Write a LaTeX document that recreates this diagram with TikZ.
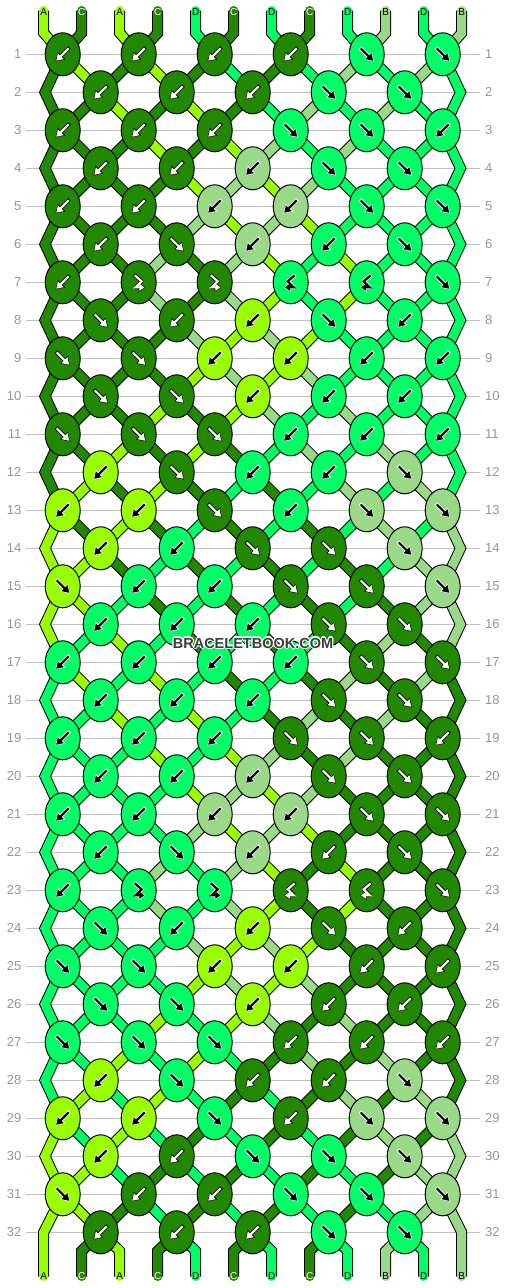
\documentclass[tikz,border=0pt]{standalone}
\usepackage{fontspec}
\setmainfont{Liberation Sans}
\usetikzlibrary{arrows.meta,shapes.geometric,calc}
\definecolor{colA}{RGB}{153,255,0}
\definecolor{colB}{RGB}{153,217,136}
\definecolor{colC}{RGB}{34,136,0}
\definecolor{colD}{RGB}{0,255,102}
\definecolor{rowlinec}{RGB}{192,192,192}
\definecolor{rownumc}{RGB}{150,150,150}
\definecolor{wmc}{RGB}{60,60,60}
\newcount\rowidx
\def\defrow#1#2{\global\rowidx=0 \def\currow{#1}\defrowaux#2\relax}
\def\defrowaux#1{\ifx#1\relax\else\global\advance\rowidx by 1 \expandafter\xdef\csname S\currow-\the\rowidx\endcsname{#1}\expandafter\defrowaux\fi}
\def\defknots#1#2{\expandafter\def\csname K#1\endcsname{#2}}
\def\parseknot#1#2\relax{\def\kc{#1}\def\ka{#2}}
% strings at each position after each row
\defrow{0}{ACACDCDCDBDB}
\defrow{1}{CACACDCDBDBD}
\defrow{2}{CCACACDBDBDD}
\defrow{3}{CCCACABDBDDD}
\defrow{4}{CCCCABABDDDD}
\defrow{5}{CCCCBABADDDD}
\defrow{6}{CCCBCBADADDD}
\defrow{7}{CCCBCBADADDD}
\defrow{8}{CCCCBABADDDD}
\defrow{9}{CCCCABABDDDD}
\defrow{10}{CCCACABDBDDD}
\defrow{11}{CCACACDBDBDD}
\defrow{12}{CACACDCDBDBD}
\defrow{13}{ACACDCDCDBDB}
\defrow{14}{AACDCDCDCDBB}
\defrow{15}{AADCDCDCDCBB}
\defrow{16}{ADADCDCDCBCB}
\defrow{17}{DADADCDCBCBC}
\defrow{18}{DDADADCBCBCC}
\defrow{19}{DDDADABCBCCC}
\defrow{20}{DDDDABABCCCC}
\defrow{21}{DDDDBABACCCC}
\defrow{22}{DDDBDBACACCC}
\defrow{23}{DDDBDBACACCC}
\defrow{24}{DDDDBABACCCC}
\defrow{25}{DDDDABABCCCC}
\defrow{26}{DDDADABCBCCC}
\defrow{27}{DDADADCBCBCC}
\defrow{28}{DADADCDCBCBC}
\defrow{29}{ADADCDCDCBCB}
\defrow{30}{AADCDCDCDCBB}
\defrow{31}{AACDCDCDCDBB}
\defrow{32}{ACACDCDCDBDB}
% knots: colour + arrow
\defknots{1}{CL,CL,CL,CL,DR,DR}
\defknots{2}{CL,CL,CL,DR,DR}
\defknots{3}{CL,CL,CL,DR,DR,DL}
\defknots{4}{CL,CL,BL,DR,DR}
\defknots{5}{CL,CL,BL,BL,DR,DR}
\defknots{6}{CL,CR,BL,DL,DR}
\defknots{7}{CL,CFB,CFB,DBF,DBF,DR}
\defknots{8}{CR,CL,AL,DR,DL}
\defknots{9}{CR,CR,AL,AL,DL,DL}
\defknots{10}{CR,CR,AL,DL,DL}
\defknots{11}{CR,CR,CR,DL,DL,DL}
\defknots{12}{AL,CR,DL,DL,BR}
\defknots{13}{AL,AL,CR,DL,BR,BR}
\defknots{14}{AL,DL,CR,CR,BR}
\defknots{15}{AR,DL,DL,CR,CR,BR}
\defknots{16}{DL,DL,DL,CR,CR}
\defknots{17}{DL,DL,DL,DL,CR,CR}
\defknots{18}{DL,DL,DL,CR,CR}
\defknots{19}{DL,DL,DL,CR,CR,CL}
\defknots{20}{DL,DL,BL,CR,CR}
\defknots{21}{DL,DL,BL,BL,CR,CR}
\defknots{22}{DL,DR,BL,CL,CR}
\defknots{23}{DL,DFB,DFB,CBF,CBF,CR}
\defknots{24}{DR,DL,AL,CR,CL}
\defknots{25}{DR,DR,AL,AL,CL,CL}
\defknots{26}{DR,DR,AL,CL,CL}
\defknots{27}{DR,DR,DR,CL,CL,CL}
\defknots{28}{AL,DR,CL,CL,BR}
\defknots{29}{AL,AL,DR,CL,BR,BR}
\defknots{30}{AL,CL,DR,DR,BR}
\defknots{31}{AR,CL,CL,DR,DR,BR}
\defknots{32}{CL,CL,CL,DR,DR}
% arrow glyphs: #1 halo colour, #2 arrow colour
\newcommand\arrL[2]{%
  \draw[#1,line width=3.8pt,-{Triangle[length=8.4pt,width=10.2pt]}] (6.7,-6.7) -- (-7.2,7.2);
  \draw[#2,line width=2.2pt,-{Triangle[length=6.6pt,width=8pt]}] (6,-6) -- (-6.5,6.5);}
\newcommand\arrR[2]{%
  \draw[#1,line width=3.8pt,-{Triangle[length=8.4pt,width=10.2pt]}] (-6.7,-6.7) -- (7.2,7.2);
  \draw[#2,line width=2.2pt,-{Triangle[length=6.6pt,width=8pt]}] (-6,-6) -- (6.5,6.5);}
\newcommand\arrFB[2]{%
  \draw[#1,line width=3.8pt,line join=round,-{Triangle[length=6.6pt,width=8.4pt]}] (-4.6,-7.6) -- (3,-1) -- (-3,5) -- (6.6,5);
  \draw[#2,line width=2.2pt,-{Triangle[length=5.2pt,width=6.6pt]}] (-4,-7) -- (3,-1) -- (-3,5) -- (5.8,5);}
\newcommand\arrBF[2]{%
  \draw[#1,line width=3.8pt,line join=round,-{Triangle[length=6.6pt,width=8.4pt]}] (4.6,-7.6) -- (-3,-1) -- (3,5) -- (-6.6,5);
  \draw[#2,line width=2.2pt,-{Triangle[length=5.2pt,width=6.6pt]}] (4,-7) -- (-3,-1) -- (3,5) -- (-5.8,5);}
\begin{document}
\begin{tikzpicture}[x=1pt,y=-1pt,
  strand/.style={draw=#1, line width=9pt, preaction={draw=black, line width=11pt}},
  knot/.style={ellipse, draw=black, line width=1pt, minimum width=35pt, minimum height=43pt, inner sep=0pt},
  rownum/.style={text=rownumc, font=\fontsize{13}{13}\selectfont, inner sep=0pt},
  tablabel/.style={font=\fontsize{10}{10}\selectfont, inner sep=0pt},
  wm/.style={font=\bfseries\fontsize{14.5}{14.5}\selectfont, inner sep=0pt}]
\useasboundingbox (0,0) rectangle (506,1288);
\fill[white] (0,0) rectangle (506,1288);
% coordinates of string positions
\foreach \r in {1,...,32}{
  \foreach \i in {1,...,12}{
    \pgfmathsetmacro\px{mod(\r,2)==1 ? 62.7+76*floor((\i-1)/2) : (\i==1 ? 45 : (\i==12 ? 460.5 : 100.7+76*(floor(\i/2)-1)))}
    \pgfmathsetmacro\py{54.3+38*(\r-1)}
    \coordinate (P-\r-\i) at (\px,\py);
  }
}
\foreach \i in {1,...,12}{
  \pgfmathsetmacro\tx{43.7+38*(\i-1)}
  \coordinate (T-\i) at (\tx,10.5);
  \coordinate (TB-\i) at (\tx,33);
  \coordinate (B-\i) at (\tx,1276.5);
  \coordinate (BB-\i) at (\tx,1251);
}
\coordinate (BE-1) at (43.7,1232.3);
\coordinate (BE-12) at (461.7,1232.3);
% row lines and numbers
\foreach \r in {1,...,32}{
  \pgfmathsetmacro\py{54.3+38*(\r-1)}
  \draw[rowlinec, line width=1pt] (26,\py) -- (480,\py);
  \node[rownum, anchor=east] (nl-\r) at (21.5,\py) {\r};
  \node[rownum, anchor=west] (nr-\r) at (485,\py) {\r};
}
% top tails
\foreach \i in {1,...,12}{
  \edef\cc{col\csname S0-\i\endcsname}
  \draw[strand=\cc, line cap=round] (T-\i) -- (TB-\i) -- (P-1-\i);
}
% inner segments
\foreach \r in {1,...,31}{
  \pgfmathtruncatemacro\rn{\r+1}
  \foreach \i in {2,...,11}{
    \edef\cc{col\csname S\r-\i\endcsname}
    \draw[strand=\cc] (P-\r-\i) -- (P-\rn-\i);
  }
}
% edge chevrons
\foreach \r in {1,3,...,29}{
  \pgfmathtruncatemacro\ra{\r+1}
  \pgfmathtruncatemacro\rb{\r+2}
  \edef\cc{col\csname S\r-1\endcsname}
  \draw[strand=\cc] (P-\r-1) -- (P-\ra-1) -- (P-\rb-1);
  \edef\cc{col\csname S\r-12\endcsname}
  \draw[strand=\cc] (P-\r-12) -- (P-\ra-12) -- (P-\rb-12);
}
% bottom tails
\foreach \i in {2,...,11}{
  \edef\cc{col\csname S32-\i\endcsname}
  \draw[strand=\cc, line cap=round] (P-32-\i) -- (BB-\i) -- (B-\i);
}
\edef\cc{col\csname S31-1\endcsname}
\draw[strand=\cc, line cap=round] (P-31-1) -- (BE-1) -- (B-1);
\edef\cc{col\csname S31-12\endcsname}
\draw[strand=\cc, line cap=round] (P-31-12) -- (BE-12) -- (B-12);
% knots
\foreach \r in {1,...,32}{
  \edef\kl{\csname K\r\endcsname}
  \foreach \k [count=\n] in \kl {
    \expandafter\parseknot\k\relax
    \pgfmathtruncatemacro\pp{mod(\r,2)==1 ? 2*\n-1 : 2*\n}
    \edef\kfill{col\kc}
    \node[knot, fill=\kfill] (K-\r-\n) at (P-\r-\pp) {};
    \if\kc C\def\halo{black}\def\main{white}\else\def\halo{white}\def\main{black}\fi
    \begin{scope}[shift={(K-\r-\n.center)}]
      \csname arr\ka\endcsname{\halo}{\main}
    \end{scope}
  }
}
% tab labels
\foreach \i in {1,...,12}{
  \edef\lt{\csname S0-\i\endcsname}
  \if\lt C\def\lc{white}\else\def\lc{black}\fi
  \node[tablabel, text=\lc] (lt-\i) at ($(T-\i)+(0,1.8)$) {\lt};
  \edef\lb{\csname S32-\i\endcsname}
  \if\lb C\def\lc{white}\else\def\lc{black}\fi
  \node[tablabel, text=\lc] (lb-\i) at ($(B-\i)+(0,-0.2)$) {\lb};
}
% watermark
\foreach \dx/\dy [count=\w] in {-1.2/0,1.2/0,0/-1.2,0/1.2,-0.9/-0.9,0.9/-0.9,-0.9/0.9,0.9/0.9}{
  \node[wm, text=white] (wmh-\w) at (253+\dx,643+\dy) {BRACELETBOOK.COM};
}
\node[wm, text=wmc] (wm) at (253,643) {BRACELETBOOK.COM};
\end{tikzpicture}
\end{document}
